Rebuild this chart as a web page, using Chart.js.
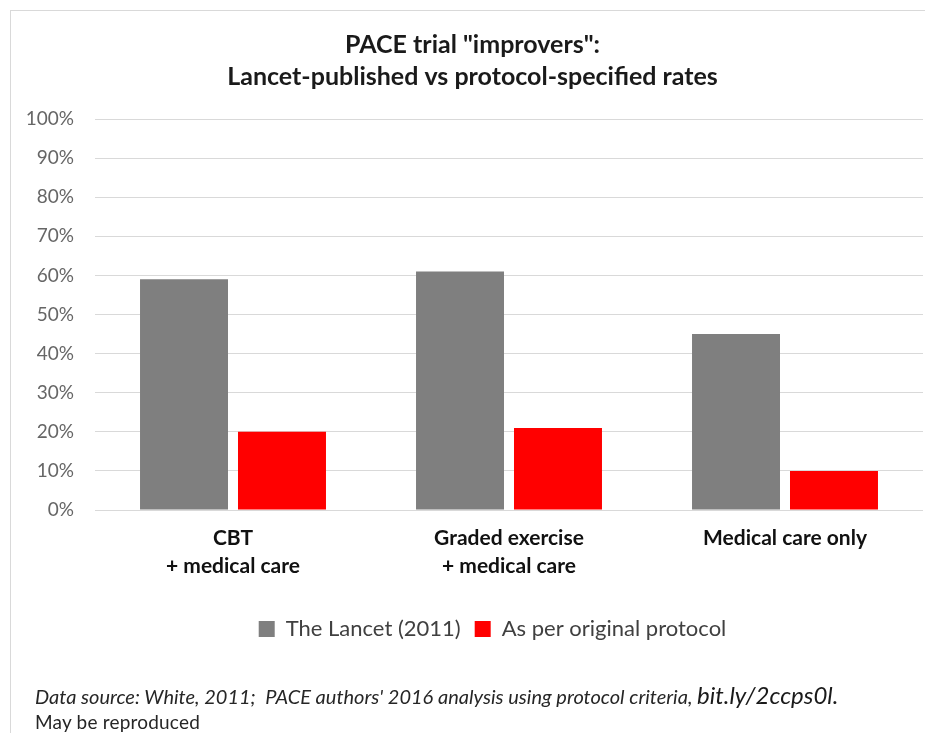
<!DOCTYPE html>
<html>
<head>
<meta charset="utf-8">
<script src="https://cdn.jsdelivr.net/npm/chart.js@4.4.1/dist/chart.umd.min.js"></script>
<style>
  html, body { margin: 0; padding: 0; background: #fff; }
  #wrap { position: relative; width: 925px; height: 733px; overflow: hidden; background: #fff; }
  #frame { position: absolute; left: 10px; top: 10px; width: 960px; height: 760px;
           border-top: 1px solid #d9d9d9; border-left: 1px solid #d9d9d9; box-sizing: border-box; }
  #chart { position: absolute; left: 0; top: 0; }
  .note { position: absolute; left: 35px; font-family: Lato, "Liberation Sans", sans-serif; color: #262626; white-space: nowrap; }
  #src { top: 683px; font-size: 20px; line-height: 24px; font-style: italic; letter-spacing: 0; }
  #src .link { font-size: 24px; line-height: 24px; letter-spacing: 0; color: #1a1a1a; }
  #repro { top: 710px; font-size: 19px; line-height: 23px; letter-spacing: 0.2px; }
</style>
</head>
<body>
<div id="wrap">
  <div id="frame"></div>
  <canvas id="chart" width="925" height="733"></canvas>
  <div class="note" id="src">Data source: White, 2011;&nbsp; PACE authors' 2016 analysis using protocol criteria, <span class="link">bit.ly/2ccps0l.</span></div>
  <div class="note" id="repro">May be reproduced</div>
</div>
<script>
const titleLines = ['PACE trial "improvers":', 'Lancet-published vs protocol-specified rates'];
const categories = [['CBT', '+ medical care'], ['Graded exercise', '+ medical care'], ['Medical care only']];
const seriesNames = ['The Lancet (2011)', 'As per original protocol'];
const lancetRates = [59, 61, 45];
const protocolRates = [20, 21, 10];
const yTicks = [0, 10, 20, 30, 40, 50, 60, 70, 80, 90, 100];

const FONT = 'Lato, "Liberation Sans", sans-serif';

// Nudge the legend row a little to the right of the title's centre line.
const legendOffset = {
  id: 'legendOffset',
  afterLayout(chart) {
    const lg = chart.legend;
    if (lg) { lg.left += 20; lg.right += 20; }
  }
};

new Chart(document.getElementById('chart'), {
  type: 'bar',
  data: {
    labels: categories,
    datasets: [
      { label: seriesNames[0], data: lancetRates, backgroundColor: '#7f7f7f', borderWidth: 0,
        categoryPercentage: 0.71, barPercentage: 0.898 },
      { label: seriesNames[1], data: protocolRates, backgroundColor: '#ff0000', borderWidth: 0,
        categoryPercentage: 0.71, barPercentage: 0.898 }
    ]
  },
  plugins: [legendOffset],
  options: {
    responsive: false,
    animation: false,
    devicePixelRatio: 1,
    layout: { padding: { top: 0, left: 22, right: 2, bottom: 83 } },
    plugins: {
      tooltip: { enabled: false },
      title: {
        display: true,
        text: titleLines,
        color: '#1a1a1a',
        font: { family: FONT, size: 25, weight: 'bold', lineHeight: 32 / 25 },
        padding: { top: 29, bottom: 26 }
      },
      legend: {
        position: 'bottom',
        labels: {
          color: '#404040',
          font: { family: FONT, size: 22 },
          boxWidth: 16,
          boxHeight: 16,
          padding: 14
        }
      }
    },
    scales: {
      x: {
        grid: { display: false, drawTicks: false },
        border: { display: false },
        ticks: { color: '#111', font: { family: FONT, size: 21, weight: 'bold', lineHeight: 28 / 21 }, padding: 14, maxRotation: 0 },
        afterFit: s => { s.height = 94; }
      },
      y: {
        min: 0, max: 100,
        afterBuildTicks: s => { s.ticks = yTicks.map(v => ({ value: v })); },
        grid: { color: '#d9d9d9', lineWidth: 1, drawTicks: false },
        border: { display: false },
        ticks: { color: '#666', font: { family: FONT, size: 19 }, padding: 21, callback: v => v + '%' },
        afterFit: s => { s.width = 73; }
      }
    }
  }
});
</script>
</body>
</html>
